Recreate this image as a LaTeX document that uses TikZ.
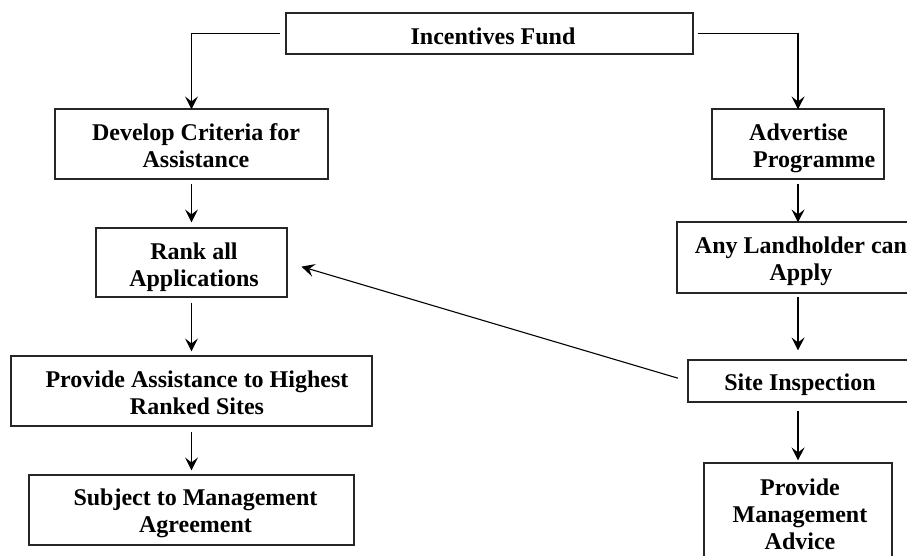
\documentclass[tikz,border=0pt]{standalone}
\usepackage{fontspec}
\setmainfont{Liberation Serif}
\usetikzlibrary{arrows.meta}
\begin{document}
\begin{tikzpicture}[x=1pt,y=-1pt,
  box/.style={draw=black!85, line width=1.1pt, rectangle, inner sep=0pt},
  txt/.style={font=\fontsize{24}{27}\selectfont\bfseries, align=center, inner sep=0pt},
  arr/.style={line width=1.1pt, -{Stealth[length=13pt,width=13pt,inset=5pt]}}]
\useasboundingbox (0,0) rectangle (907,555);
\clip (0,0) rectangle (907,555);
% boxes
\node[box, minimum width=407pt, minimum height=41pt] (fund) at (489.5,33.5) {};
\node[box, minimum width=273pt, minimum height=70pt] (dev) at (191.5,144) {};
\node[box, minimum width=191pt, minimum height=69pt] (rank) at (191.5,262.5) {};
\node[box, minimum width=361pt, minimum height=70pt] (prov) at (191.5,391) {};
\node[box, minimum width=325pt, minimum height=70pt] (subj) at (191.5,510) {};
\node[box, minimum width=172pt, minimum height=70pt] (adv) at (798,144) {};
\node[box, minimum width=246pt, minimum height=71pt] (land) at (800,257.5) {};
\node[box, minimum width=224pt, minimum height=42pt] (site) at (800,381) {};
\node[box, minimum width=188pt, minimum height=102pt] (pma) at (798,514) {};
% texts
\node[txt] (tfund) at (493,35.9) {Incentives Fund};
\node[txt] (tdev) at (196,145.4) {Develop Criteria for\\Assistance};
\node[txt] (trank) at (194,266.9) {Rank all\\Applications};
\node[txt] (tprov) at (197,392.4) {Provide Assistance to Highest\\Ranked Sites};
\node[txt] (tsubj) at (195.5,512.9) {Subject to Management\\Agreement};
\node[txt, align=left, anchor=west] (tadv) at (749,147.9) {Advertise\\\hspace*{4pt}Programme};
\node[txt] (tland) at (801,260.9) {Any Landholder can\\Apply};
\node[txt] (tsite) at (800,384.5) {Site Inspection};
\node[txt] (tpma) at (800,513.9) {Provide\\Management\\Advice};
% connectors
\draw[arr, shorten <=5pt, shorten >=-1pt] (fund.west) -| (dev.north);
\draw[arr, shorten <=4pt, shorten >=-1pt] (fund.east) -| (adv.north);
\draw[arr, shorten <=4pt, shorten >=5pt] (dev.south) -- (dev.south |- rank.north);
\draw[arr, shorten <=5pt, shorten >=4pt] (rank.south) -- (prov.north);
\draw[arr, shorten <=5pt, shorten >=4pt] (prov.south) -- (subj.north);
\draw[arr, shorten <=4pt, shorten >=-1pt] (adv.south) -- (adv.south |- land.north);
\draw[arr, shorten <=3pt, shorten >=9pt] (land.south -| adv.south) -- (adv.south |- site.north);
\draw[arr, shorten <=8pt, shorten >=2pt] (site.south -| adv.south) -- (adv.south |- pma.north);
\draw[arr, shorten <=10pt, shorten >=14.5pt] (site.west) -- (rank.east);
\end{tikzpicture}
\end{document}
